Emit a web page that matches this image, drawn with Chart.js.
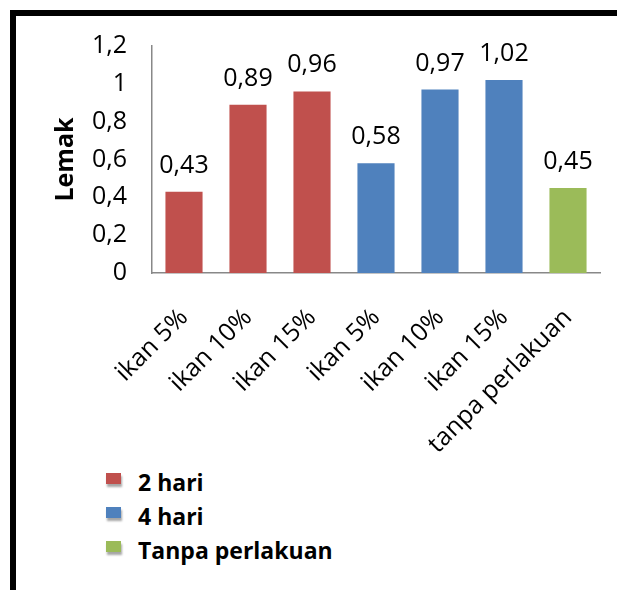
<!DOCTYPE html>
<html>
<head>
<meta charset="utf-8">
<script src="https://cdn.jsdelivr.net/npm/chart.js@4/dist/chart.umd.min.js"></script>
<style>
  html, body { margin: 0; padding: 0; background: #fff; overflow: hidden; }
  body { width: 617px; height: 590px; position: relative; font-family: "Open Sans", sans-serif; }
  #frame { position: absolute; left: 10px; top: 10px; width: 800px; height: 800px; border: 6px solid #000; box-sizing: border-box; pointer-events: none; }
  #c { position: absolute; left: 0; top: 0; }
  #legend { position: absolute; left: 106px; top: 465px; }
  .item { display: flex; align-items: center; height: 34px; font-weight: bold; font-size: 23px; color: #000; }
  .sw { width: 15px; height: 11px; margin-right: 17px; margin-top: -8px; box-shadow: 1px 3px 2px rgba(0,0,0,0.35); }
</style>
</head>
<body>
<canvas id="c" width="617" height="460"></canvas>
<div id="legend"></div>
<div id="frame"></div>
<script>
const categories = ["ikan 5%", "ikan 10%", "ikan 15%", "ikan 5%", "ikan 10%", "ikan 15%", "tanpa perlakuan"];
const seriesNames = ["2 hari", "4 hari", "Tanpa perlakuan"];
const dua_hari = [0.43, 0.89, 0.96, null, null, null, null];
const empat_hari = [null, null, null, 0.58, 0.97, 1.02, null];
const tanpa_perlakuan = [null, null, null, null, null, null, 0.45];
const seriesColors = ["#C0504D", "#4F81BD", "#9BBB59"];
const yTicks = [0, 0.2, 0.4, 0.6, 0.8, 1, 1.2];
const yTitle = "Lemak";

const fmt = v => parseFloat(Number(v).toFixed(2)).toString().replace('.', ',');
const FONT = "'Open Sans', sans-serif";

const valueLabels = {
  id: 'valueLabels',
  afterDatasetsDraw(chart) {
    const ctx = chart.ctx;
    ctx.save();
    ctx.font = "25px " + FONT;
    ctx.fillStyle = "#000";
    ctx.textAlign = "center";
    ctx.textBaseline = "alphabetic";
    chart.data.datasets.forEach((ds, di) => {
      const meta = chart.getDatasetMeta(di);
      meta.data.forEach((el, i) => {
        const v = ds.data[i];
        if (v === null || v === undefined) return;
        ctx.fillText(fmt(v), el.x, el.y - 19);
      });
    });
    ctx.restore();
  }
};

const datasets = [dua_hari, empat_hari, tanpa_perlakuan].map((d, i) => ({
  label: seriesNames[i],
  data: d,
  backgroundColor: seriesColors[i],
  borderWidth: 0,
  barPercentage: 0.58,
  categoryPercentage: 1.0
}));

new Chart(document.getElementById('c'), {
  type: 'bar',
  data: { labels: categories, datasets },
  options: {
    responsive: false,
    animation: false,
    events: [],
    layout: { padding: { left: 51, top: 46, right: 17, bottom: 0 } },
    plugins: { legend: { display: false }, tooltip: { enabled: false } },
    scales: {
      x: {
        stacked: true,
        grid: { display: false, drawTicks: false },
        border: { display: true, color: "#888888", width: 1.5 },
        ticks: {
          autoSkip: false, minRotation: 45, maxRotation: 45,
          padding: 30,
          color: "#000",
          font: { family: FONT, size: 25 }
        },
        afterFit(scale) { scale.height = 187; scale.paddingRight = 0; scale.paddingLeft = 0; }
      },
      y: {
        stacked: true,
        min: 0, max: 1.2,
        afterBuildTicks(scale) { scale.ticks = yTicks.map(v => ({ value: v })); },
        grid: { display: false, drawTicks: false },
        border: { display: true, color: "#888888", width: 1.5 },
        ticks: {
          padding: 25,
          color: "#000",
          font: { family: FONT, size: 25 },
          callback: v => fmt(v)
        },
        title: {
          display: true, text: yTitle, color: "#000",
          padding: 0,
          font: { family: FONT, size: 25, weight: 'bold' }
        },
        afterFit(scale) { scale.width = 101; }
      }
    }
  },
  plugins: [valueLabels]
});

const legend = document.getElementById('legend');
seriesNames.forEach((n, i) => {
  const row = document.createElement('div');
  row.className = 'item';
  const sw = document.createElement('span');
  sw.className = 'sw';
  sw.style.background = seriesColors[i];
  const t = document.createElement('span');
  t.textContent = n;
  row.appendChild(sw); row.appendChild(t);
  legend.appendChild(row);
});
</script>
</body>
</html>
